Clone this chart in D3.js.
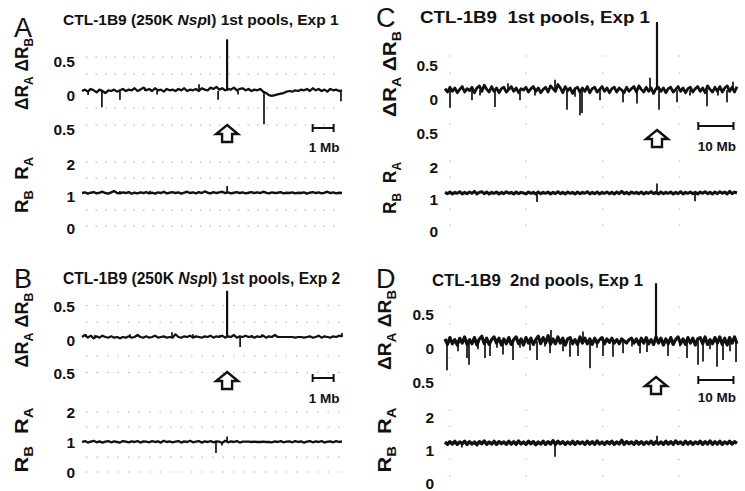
<!DOCTYPE html>
<html><head><meta charset="utf-8">
<script src="https://cdn.jsdelivr.net/npm/d3@7"></script>
<style>body{margin:0;background:#fff}svg{display:block}</style>
</head><body>
<script>
// ---------- DATA ----------
const panelLetters = ["A", "B", "C", "D"];
const panelTitles = [
  ["CTL-1B9 (250K ", "Nsp", "I) 1st pools, Exp 1"],
  ["CTL-1B9 (250K ", "Nsp", "I) 1st pools, Exp 2"],
  ["CTL-1B9  1st pools, Exp 1", "", ""],
  ["CTL-1B9  2nd pools, Exp 1", "", ""]
];
const spanMb = [12.4, 12.4, 83, 83];
const scaleBarMb = [[11, 12], [11, 12], [72, 82], [72, 82]];
const scaleBarLabels = ["1 Mb", "1 Mb", "10 Mb", "10 Mb"];
const topTickValues = [0.5, 0, -0.5];
const topTickLabels = ["0.5", "0", "0.5"];
const lowTickValues = [2, 1, 0];
const lowTickLabels = ["2", "1", "0"];
const topGrid = [0.5, 0.25, -0.25, -0.5];
const lowGrid = [2, 1.5, 0.5, 0];
const topBase = [0, 0.03, 0, 0];
const lowBase = [1.03, 1.0, 1.0, 1.0];

const deltaA = [
0.00,0.02,-0.01,0.03,0.01,-0.02,0.02,0.00,-0.03,0.01,
0.00,0.02,-0.01,0.01,0.03,0.00,0.02,0.01,0.04,0.00,
0.02,0.05,0.01,0.03,0.00,0.04,0.01,0.02,-0.01,0.03,
0.01,0.02,0.00,0.03,0.01,0.04,0.00,0.02,0.01,0.03,
0.00,0.04,0.02,0.01,0.05,0.03,0.06,0.02,0.04,0.01,
0.03,0.02,0.05,0.01,0.03,0.04,0.01,0.03,0.00,0.02,
0.01,0.03,-0.01,-0.03,-0.06,-0.07,-0.06,-0.05,-0.04,-0.03,
-0.01,0.00,-0.01,0.01,0.00,0.02,0.01,0.03,0.00,0.04,
0.01,0.03,0.00,0.02,-0.01,0.03,0.01,0.02,0.00,0.01];
const ratioA = [
1.03,1.05,1.01,1.04,1.06,1.02,1.04,1.07,1.03,1.01,
1.05,1.09,1.03,1.02,1.05,1.03,1.06,1.01,1.04,1.02,
1.05,1.03,1.06,1.02,1.04,1.01,1.05,1.03,1.07,1.02,
1.04,1.06,1.03,1.05,1.01,1.04,1.07,1.03,1.05,1.02,
1.06,1.03,1.08,1.04,1.02,1.06,1.03,1.05,1.07,1.03,
1.05,1.02,1.04,1.06,1.03,1.05,1.02,1.04,1.06,1.03,
1.05,1.03,1.07,1.04,1.02,1.05,1.03,1.04,1.06,1.02,
1.04,1.03,1.05,1.02,1.04,1.03,1.05,1.01,1.04,1.06,
1.03,1.05,1.02,1.04,1.07,1.03,1.05,1.02,1.04,1.03];
const deltaB = [
0.03,0.06,0.02,0.05,0.01,0.04,0.02,0.05,0.03,0.02,
0.04,0.02,0.03,0.01,0.03,0.02,0.04,0.02,0.03,0.06,
0.03,0.02,0.04,0.02,0.03,0.05,0.02,0.03,0.04,0.02,
0.03,0.02,0.07,0.03,0.02,0.04,0.03,0.05,0.02,0.04,
0.03,0.02,0.04,0.03,0.05,0.02,0.04,0.03,0.05,0.02,
0.04,0.03,0.06,0.02,0.04,0.03,0.05,0.03,0.04,0.02,
0.04,0.03,0.05,0.02,0.04,0.03,0.06,0.03,0.03,0.03,
0.03,0.03,0.03,0.02,0.03,0.03,0.02,0.03,0.04,0.02,
0.03,0.05,0.02,0.04,0.03,0.02,0.04,0.03,0.05,0.04];
const ratioB = [
1.00,1.03,0.98,1.01,1.04,0.99,1.02,0.98,1.01,1.03,
0.99,1.02,1.00,0.98,1.03,1.01,0.99,1.02,1.00,1.03,
0.98,1.02,1.01,0.99,1.03,1.00,1.02,0.98,1.04,1.00,
1.02,0.99,1.01,1.03,0.98,1.02,1.00,1.04,0.99,1.01,
1.03,0.98,1.02,1.00,1.03,0.99,1.02,1.01,0.97,1.04,
0.99,1.02,1.00,1.03,0.98,1.01,1.01,1.01,1.00,1.01,
1.00,1.00,1.01,1.00,1.00,0.99,1.02,1.00,1.03,0.99,
1.01,1.02,0.99,1.03,1.00,1.02,0.98,1.01,1.03,0.99,
1.02,1.00,1.03,0.98,1.01,1.02,0.99,1.03,1.00,1.02];
const deltaC = [
0.02,-0.03,0.04,-0.02,0.03,-0.04,0.01,0.05,-0.03,0.02,
-0.01,0.04,-0.04,0.03,0.06,-0.02,0.07,0.01,-0.03,0.05,
-0.02,0.03,-0.04,0.02,0.04,-0.03,0.01,0.05,-0.02,0.03,
-0.04,0.02,0.00,0.04,-0.03,0.02,0.05,-0.02,0.03,-0.04,
0.01,0.04,-0.03,0.06,0.02,-0.02,0.08,0.03,-0.04,0.05,
-0.01,0.03,-0.05,0.02,0.04,-0.03,0.03,-0.02,0.05,-0.04,
0.02,0.04,-0.03,0.01,0.05,-0.02,0.03,-0.04,0.02,0.04,
-0.03,0.03,0.00,-0.04,0.04,-0.02,0.02,0.05,-0.03,0.06,
0.01,-0.03,0.04,-0.02,0.03,-0.05,0.02,0.04,-0.02,0.03,
-0.04,0.02,0.04,-0.03,0.01,0.05,-0.02,0.03,-0.04,0.02,
0.04,-0.03,0.02,0.05,-0.02,0.03,-0.04,0.06,0.01,-0.03,
0.04,-0.02,0.05,-0.03,0.03,0.06,-0.02,0.04,-0.03,0.05];
const ratioC = [
1.02,0.98,1.03,0.97,1.02,0.99,1.04,0.97,1.02,0.98,
1.03,0.99,1.05,0.97,1.02,1.04,0.98,1.03,0.97,1.02,
0.99,1.03,0.97,1.02,0.98,1.04,0.99,1.02,0.97,1.03,
0.98,1.02,1.00,0.97,1.03,0.99,1.02,0.97,1.03,0.98,
1.02,0.99,1.03,0.97,1.02,0.98,1.04,0.98,1.02,0.97,
1.03,0.99,1.02,0.97,1.03,0.98,1.02,0.99,1.04,0.97,
1.02,0.98,1.03,0.97,1.02,0.99,1.03,0.98,1.02,0.97,
1.03,0.98,1.05,0.98,1.02,0.97,1.03,0.99,1.02,0.98,
1.03,0.97,1.02,0.99,1.04,0.98,1.02,0.97,1.03,0.98,
1.02,0.99,1.03,0.97,1.02,0.98,1.04,0.97,1.02,0.99,
1.03,0.98,1.02,0.97,1.03,0.99,1.04,0.98,1.02,0.97,
1.03,0.98,1.04,0.99,1.03,0.97,1.05,0.98,1.03,1.00];
const deltaD = [
0.03,-0.05,0.05,-0.04,0.02,-0.06,0.04,-0.03,0.06,-0.05,
0.02,-0.04,0.05,-0.06,0.03,0.07,-0.04,0.04,-0.05,0.02,
0.06,-0.03,0.04,-0.06,0.03,-0.04,0.05,-0.05,0.02,0.06,
-0.04,0.03,-0.06,0.05,-0.03,0.04,-0.05,0.02,0.07,-0.04,
0.05,-0.03,0.08,-0.05,0.03,-0.04,0.06,-0.03,0.04,-0.06,
0.03,0.05,-0.04,0.02,-0.05,0.06,-0.03,0.04,-0.04,0.03,
-0.05,0.04,-0.03,0.02,0.05,-0.04,0.03,-0.02,0.04,-0.03,
0.02,-0.04,0.03,0.00,-0.03,0.02,0.04,-0.03,0.03,-0.05,
0.04,-0.03,0.05,-0.04,0.02,-0.05,0.06,-0.03,0.04,-0.06,
0.03,-0.04,0.05,-0.05,0.02,0.06,-0.04,0.03,-0.05,0.05,
-0.03,0.04,-0.06,0.03,0.05,-0.04,0.06,-0.05,0.02,-0.04,
0.05,-0.03,0.06,-0.05,0.04,-0.06,0.05,-0.03,0.06,-0.04];
const ratioD = [
1.03,0.96,1.04,0.97,1.05,0.96,1.03,0.98,1.05,0.96,
1.04,0.97,1.03,0.95,1.04,0.98,1.06,0.96,1.03,0.97,
1.05,0.96,1.04,0.98,1.03,0.96,1.05,0.97,1.04,0.96,
1.06,0.97,1.03,0.96,1.05,0.98,1.04,0.95,1.03,0.97,
1.05,0.96,1.04,0.97,1.07,0.96,1.05,0.98,1.04,0.96,
1.03,0.97,1.05,0.96,1.04,0.98,1.03,0.96,1.05,0.97,
1.04,0.96,1.06,0.97,1.03,0.96,1.04,0.98,1.05,0.96,
1.03,0.97,1.08,0.96,1.04,0.98,1.03,0.96,1.05,0.97,
1.04,0.96,1.03,0.98,1.05,0.96,1.04,0.97,1.03,0.96,
1.05,0.97,1.04,0.96,1.06,0.98,1.03,0.96,1.05,0.97,
1.04,0.96,1.03,0.98,1.05,0.96,1.04,0.97,1.06,0.96,
1.04,0.97,1.05,0.96,1.03,0.98,1.05,0.97,1.04,0.99];

// spikes: [position in Mb, value]
const deltaSpikesA = [[0.29,-0.06],[0.95,-0.24],[1.81,-0.13],[3.00,0.05],[3.58,-0.05],[5.58,0.10],[6.49,-0.13],[6.92,0.76],[7.44,-0.05],[8.68,-0.49],[12.35,-0.15]];
const ratioSpikesA = [[1.81,1.09],[3.24,1.10],[6.92,1.25]];
const deltaSpikesB = [[0.19,0.07],[0.62,0.06],[2.29,0.07],[4.29,0.10],[5.29,0.07],[6.58,0.06],[6.92,0.72],[7.54,-0.12],[8.11,0.06],[8.58,0.07],[12.40,0.09]];
const ratioSpikesB = [[6.39,0.63],[6.68,0.88],[6.92,1.18]];
const deltaSpikesC = [[1.42,-0.26],[7.67,-0.15],[9.95,-0.08],[14.21,-0.25],[17.9,0.10],[21.32,-0.15],[25.58,-0.08],[31.27,0.15],[34.68,-0.29],[36.95,-0.10],[38.37,-0.37],[38.94,-0.34],[44.06,-0.15],[50.6,-0.18],[54.58,-0.20],[58.27,0.18],[60.26,1.00],[60.83,-0.29],[65.95,-0.18],[69.64,-0.08],[74.47,-0.24],[77.6,-0.08],[80.16,-0.18],[81.86,0.12]];
const ratioSpikesC = [[26.15,0.72],[60.26,1.30],[71.06,0.74]];
const deltaSpikesD = [[0.57,-0.43],[3.70,-0.15],[6.25,-0.25],[6.82,-0.35],[9.38,-0.12],[11.37,-0.25],[12.79,-0.22],[14.78,-0.10],[16.49,-0.20],[19.33,-0.28],[21.32,-0.10],[24.16,-0.14],[26.15,-0.28],[28.43,-0.08],[29.85,-0.18],[30.13,0.16],[33.54,-0.15],[35.53,-0.23],[37.81,-0.22],[39.23,0.14],[41.22,-0.40],[43.21,-0.10],[44.91,-0.22],[47.75,-0.23],[50.6,-0.18],[53.15,-0.08],[55.43,-0.18],[57.42,-0.16],[59.98,0.85],[63.39,-0.22],[66.8,-0.08],[68.79,-0.25],[71.92,-0.35],[73.34,-0.30],[75.33,-0.12],[77.32,-0.38],[79.02,-0.28],[81.01,-0.15],[82.72,-0.31]];
const ratioSpikesD = [[4.8,0.86],[31.27,0.58],[60.26,1.22]];

const deltaSeries = [deltaA, deltaB, deltaC, deltaD];
const ratioSeries = [ratioA, ratioB, ratioC, ratioD];
const deltaSpikes = [deltaSpikesA, deltaSpikesB, deltaSpikesC, deltaSpikesD];
const ratioSpikes = [ratioSpikesA, ratioSpikesB, ratioSpikesC, ratioSpikesD];

// ---------- LAYOUT (pixels / styles) ----------
const layout = [
  {letter:[14,37], title:{x:63,w:null,fs:15.5,y:25}, xr:[82,342], top:{y0:91,k:68,dy:4}, low:{y1:194,k:32,dy:2}, tickX:75, yt1:{x:28,cy:74,len:72}, yt2:{x:28,cy:185,len:56}, arrowY:125, barY:128, barTextY:152, lw:2.3, lwLow:2.4, grid:"1.5,8", gridOp:0.6},
  {letter:[14,288], title:{x:63,w:null,fs:15.6,y:284}, xr:[82,342], top:{y0:339,k:67,dy:1}, low:{y1:442,k:30,dy:0}, tickX:75, yt1:{x:28,cy:330,len:75}, yt2:{x:28,cy:440,len:65}, arrowY:372, barY:378, barTextY:403, lw:2.2, lwLow:2.3, grid:"1.5,9", gridOp:0.55},
  {letter:[376,27], title:{x:420,w:230,fs:16,y:23}, xr:[445,737], top:{y0:90,k:68,dy:9}, low:{y1:193,k:32,dy:6}, tickX:438, yt1:{x:396,cy:74,len:86}, yt2:{x:396,cy:188,len:52}, arrowY:130, barY:126, barTextY:151, lw:2.8, lwLow:3.0, grid:"1.5,75", gridOp:0.5},
  {letter:[376,288], title:{x:432,w:211,fs:16,y:286}, xr:[445,737], top:{y0:341,k:68,dy:7}, low:{y1:443,k:33,dy:7}, tickX:434, yt1:{x:391,cy:330,len:80}, yt2:{x:391,cy:440,len:65}, arrowY:377, barY:380, barTextY:402, lw:3.2, lwLow:3.4, grid:"1.5,75", gridOp:0.5}
];

const W = 745, H = 491;
const FONT = "'Liberation Sans', Arial, Helvetica, sans-serif";
const svg = d3.select("body").append("svg").attr("width", W).attr("height", H)
  .style("font-family", FONT);

panelLetters.forEach((letter, p) => {
  const L = layout[p];
  const g = svg.append("g");
  const x = d3.scaleLinear().domain([0, spanMb[p]]).range(L.xr);
  const yT = d3.scaleLinear().domain([0, 1]).range([L.top.y0, L.top.y0 - L.top.k]);
  const yL = d3.scaleLinear().domain([1, 2]).range([L.low.y1, L.low.y1 - L.low.k]);

  // panel letter
  g.append("text").attr("x", L.letter[0]).attr("y", L.letter[1])
    .attr("font-size", 27).attr("fill", "#111").text(letter);

  // title
  const t = g.append("text").attr("x", L.title.x).attr("y", L.title.y)
    .attr("font-size", L.title.fs).attr("font-weight", "bold").attr("fill", "#111")
    .style("white-space", "pre");
  if (L.title.w) t.attr("textLength", L.title.w).attr("lengthAdjust", "spacingAndGlyphs");
  const parts = panelTitles[p];
  if (parts[1]) {
    t.append("tspan").text(parts[0]);
    t.append("tspan").attr("font-style", "italic").text(parts[1]);
    t.append("tspan").text(parts[2]);
  } else {
    t.text(parts[0]);
  }

  // y titles (rotated)
  const yt = (cfg, a, b) => {
    const tt = g.append("text")
      .attr("transform", `translate(${cfg.x},${cfg.cy}) rotate(-90)`)
      .attr("text-anchor", "middle").attr("font-size", 19).attr("font-weight", "bold")
      .attr("fill", "#111").attr("textLength", cfg.len).attr("lengthAdjust", "spacingAndGlyphs")
      .style("white-space", "pre");
    tt.append("tspan").text(a[0]);
    tt.append("tspan").attr("font-size", 13).attr("dy", 5).text(a[1]);
    tt.append("tspan").attr("dy", -5).text(b[0]);
    tt.append("tspan").attr("font-size", 13).attr("dy", 5).text(b[1]);
  };
  yt(L.yt1, ["\u0394R", "A"], [" \u0394R", "B"]);
  yt(L.yt2, ["R", "B"], ["  R", "A"]);

  // tick labels
  g.selectAll(null).data(topTickValues).join("text")
    .attr("x", L.tickX).attr("y", d => yT(d) + L.top.dy).attr("dy", "0.36em")
    .attr("text-anchor", "end").attr("font-size", 15.5).attr("font-weight", "bold").attr("fill", "#111")
    .text((d, i) => topTickLabels[i]);
  g.selectAll(null).data(lowTickValues).join("text")
    .attr("x", L.tickX).attr("y", d => yL(d) + L.low.dy).attr("dy", "0.36em")
    .attr("text-anchor", "end").attr("font-size", 15.5).attr("font-weight", "bold").attr("fill", "#111")
    .text((d, i) => lowTickLabels[i]);

  // dotted grid
  const gridG = g.append("g").attr("stroke", "#7a7a7a").attr("stroke-width", 1.2)
    .attr("stroke-dasharray", L.grid).attr("opacity", L.gridOp);
  gridG.selectAll(null).data(topGrid).join("line")
    .attr("x1", L.xr[0] + 4).attr("x2", L.xr[1]).attr("y1", d => yT(d)).attr("y2", d => yT(d));
  gridG.selectAll(null).data(lowGrid).join("line")
    .attr("x1", L.xr[0] + 4).attr("x2", L.xr[1]).attr("y1", d => yL(d)).attr("y2", d => yL(d));

  // traces
  const drawTrace = (vals, yS, base, spikes, lw) => {
    const n = vals.length;
    const line = d3.line().x((d, i) => x(i * spanMb[p] / (n - 1))).y(d => yS(d));
    g.append("path").datum(vals).attr("d", line).attr("fill", "none")
      .attr("stroke", "#111").attr("stroke-width", lw).attr("stroke-linejoin", "round");
    g.selectAll(null).data(spikes).join("line")
      .attr("x1", d => x(d[0])).attr("x2", d => x(d[0]))
      .attr("y1", yS(base)).attr("y2", d => yS(d[1]))
      .attr("stroke", "#111").attr("stroke-width", d => Math.abs(d[1] - base) > 0.5 ? 2.2 : 1.7);
  };
  drawTrace(deltaSeries[p], yT, topBase[p], deltaSpikes[p], L.lw);
  drawTrace(ratioSeries[p], yL, lowBase[p], ratioSpikes[p], L.lwLow);

  // arrow at highest peak
  const peak = d3.greatest(deltaSpikes[p], d => d[1]);
  const ax = x(peak[0]), ay = L.arrowY;
  g.append("path")
    .attr("d", `M${ax},${ay} L${ax + 11},${ay + 9} L${ax + 5},${ay + 9} L${ax + 5},${ay + 17} L${ax - 5},${ay + 17} L${ax - 5},${ay + 9} L${ax - 11},${ay + 9} Z`)
    .attr("fill", "#fff").attr("stroke", "#111").attr("stroke-width", 2.4).attr("stroke-linejoin", "miter");

  // scale bar
  const sb = scaleBarMb[p];
  const bx0 = x(sb[0]), bx1 = x(sb[1]);
  const sg = g.append("g").attr("stroke", "#111").attr("stroke-width", 2);
  sg.append("line").attr("x1", bx0).attr("x2", bx1).attr("y1", L.barY).attr("y2", L.barY);
  sg.append("line").attr("x1", bx0).attr("x2", bx0).attr("y1", L.barY - 4).attr("y2", L.barY + 4);
  sg.append("line").attr("x1", bx1).attr("x2", bx1).attr("y1", L.barY - 4).attr("y2", L.barY + 4);
  g.append("text").attr("x", (bx0 + bx1) / 2 + 1).attr("y", L.barTextY)
    .attr("text-anchor", "middle").attr("font-size", 13.5).attr("font-weight", "bold").attr("fill", "#111")
    .text(scaleBarLabels[p]);
});
</script>
</body></html>
